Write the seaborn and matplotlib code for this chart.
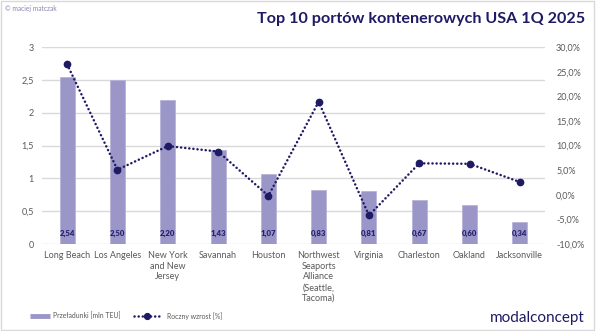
import matplotlib
matplotlib.use("Agg")
import matplotlib.pyplot as plt
import matplotlib.ticker as mticker
from matplotlib.lines import Line2D
from matplotlib.patches import Rectangle
import seaborn as sns
import pandas as pd

ports = ["Long Beach", "Los Angeles", "New York\nand New\nJersey", "Savannah", "Houston",
         "Northwest\nSeaports\nAlliance\n(Seattle,\nTacoma)", "Virginia", "Charleston",
         "Oakland", "Jacksonville"]
teu = [2.54, 2.50, 2.20, 1.43, 1.07, 0.83, 0.81, 0.67, 0.60, 0.34]
growth = [26.5, 5.1, 9.9, 8.8, -0.2, 18.9, -4.2, 6.4, 6.3, 2.6]

title = "Top 10 portów kontenerowych USA 1Q 2025"
bar_label = "Przeładunki [mln TEU]"
line_label = "Roczny wzrost [%]"

BAR = "#9b96c8"
NAVY = "#1e1a64"
GRAY = "#595959"
GRID = "#d9d9d9"

sns.set_theme(style="white")
plt.rcParams["font.family"] = ["Lato", "DejaVu Sans"]

df = pd.DataFrame({"port": ports, "teu": teu, "growth": growth})

fig = plt.figure(figsize=(5.96, 3.31), dpi=100)
ax = fig.add_axes([42/596, 1-244/331, (545-42)/596, (244-47.2)/331])

sns.barplot(data=df, x="port", y="teu", ax=ax, color=BAR, width=0.3, saturation=1,
            edgecolor="#b4b0d8", linewidth=0.5, zorder=2)
ax.set_ylim(0, 3)
ax.set_yticks([0, 0.5, 1, 1.5, 2, 2.5, 3])
ax.yaxis.set_major_formatter(mticker.FuncFormatter(lambda v, p: f"{v:g}".replace(".", ",")))
ax.grid(axis="y", color=GRID, linewidth=1, zorder=0)
ax.set_axisbelow(True)
for s in ax.spines.values():
    s.set_visible(False)
ax.set_xlabel("")
ax.set_ylabel("")
ax.tick_params(axis="y", length=0, pad=6, labelsize=6.5, labelcolor=GRAY)
ax.tick_params(axis="x", length=0, pad=5, labelsize=6.5, labelcolor=GRAY)
for lab in ax.get_xticklabels():
    lab.set_verticalalignment("top")
    lab.set_linespacing(1.25)

vlabels = []
for i, v in enumerate(teu):
    vlabels.append(ax.text(i, 0.17, f"{v:.2f}".replace(".", ","), ha="center",
                           va="center", fontsize=6.0, fontweight="heavy",
                           color="#27236e", zorder=5))

ax2 = ax.twinx()
sns.pointplot(data=df, x="port", y="growth", ax=ax2, color=NAVY, errorbar=None,
              markers="o", linestyles=":", markersize=4, linewidth=1.8)
for ln in ax2.lines:
    ln.set_linestyle((0, (0.05, 1.6)))
    ln.set_dash_capstyle("round")
    ln.set_markersize(4.2)
ax2.set_ylim(-10, 30)
ax2.set_yticks(range(-10, 31, 5))
ax2.yaxis.set_major_formatter(mticker.FuncFormatter(lambda v, p: f"{v:.1f}%".replace(".", ",")))
ax2.tick_params(axis="y", length=0, pad=8, labelsize=6.5, labelcolor=GRAY)
ax2.set_ylabel("")
ax2.set_xlabel("")
for s in ax2.spines.values():
    s.set_visible(False)
ax2.grid(False)

t = fig.text(585/596, 1-19/331, title, ha="right", va="center", fontsize=12,
             fontweight="bold", color=NAVY)
fig.text(5/596, 1-9/331, "© maciej matczak", ha="left", va="center", fontsize=4.8,
         color="#8a86b0")
fig.text(585/596, 1-318/331, "modalconcept", ha="right", va="center", fontsize=11,
         color=NAVY)

fig.patches.append(Rectangle((0.002, 0.003), 0.995, 0.993, transform=fig.transFigure,
                             fill=False, edgecolor=GRID, linewidth=1))

# fit text widths to the reference
tmp = fig.text(0, 0, bar_label, fontsize=6.0)
fig.canvas.draw()
t.set_fontsize(12 * 327 / t.get_window_extent().width)
vfs = 6.0 * 15.5 / vlabels[0].get_window_extent().width
for lbl in vlabels:
    lbl.set_fontsize(vfs)
lfs = 6.0 * 68 / tmp.get_window_extent().width
tmp.remove()
px = lfs * 100 / 72

h1 = Line2D([0], [0], color=BAR, linewidth=3.5, solid_capstyle="butt")
h2 = Line2D([0], [0], color=NAVY, linewidth=1.8, linestyle=(0, (0.05, 1.6)),
            dash_capstyle="round", marker="o", markersize=4.2)
ly = 1 - 316/331
fig.legend([h1], [bar_label], loc="center left", bbox_to_anchor=(30/596, ly),
           frameon=False, fontsize=lfs, labelcolor=GRAY, borderpad=0,
           borderaxespad=0, handlelength=20/px, handletextpad=3/px)
fig.legend([h2], [line_label], loc="center left", bbox_to_anchor=(134/596, ly),
           frameon=False, fontsize=lfs, labelcolor=GRAY, borderpad=0,
           borderaxespad=0, handlelength=26/px, handletextpad=7/px, numpoints=1)

fig.savefig("out.png", dpi=100)
